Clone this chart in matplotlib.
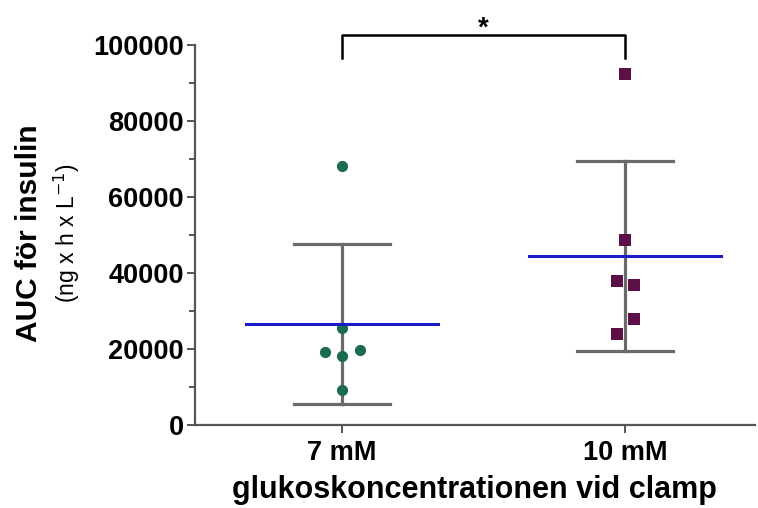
import numpy as np
import matplotlib
matplotlib.use("Agg")
import matplotlib.pyplot as plt
from matplotlib.ticker import MultipleLocator

categories = ["7 mM", "10 mM"]
vals_7 = [68200, 25500, 19200, 18200, 19700, 9200]
jit_7 = [0.0, 0.0, -0.06, 0.0, 0.064, 0.0]
vals_10 = [92400, 48700, 37900, 36800, 27900, 23900]
jit_10 = [0.0, 0.0, -0.028, 0.032, 0.032, -0.028]
means = [26700, 44600]
err_low = [5500, 19500]
err_high = [47600, 69500]
yticks = [0, 20000, 40000, 60000, 80000, 100000]

plt.rcParams['font.family'] = ['Liberation Sans', 'DejaVu Sans']

fig = plt.figure(figsize=(7.58, 5.08), dpi=100)
ax = fig.add_axes([0.257, 0.163, 0.739, 0.748])

gray = '#6a6a6a'
xs = np.arange(len(categories))
for i in range(len(categories)):
    ax.plot([xs[i], xs[i]], [err_low[i], err_high[i]], color=gray, lw=2.3, zorder=1)
    ax.plot([xs[i] - 0.17, xs[i] + 0.17], [err_low[i]] * 2, color=gray, lw=2.3, zorder=1)
    ax.plot([xs[i] - 0.17, xs[i] + 0.17], [err_high[i]] * 2, color=gray, lw=2.3, zorder=1)
    ax.plot([xs[i] - 0.34, xs[i] + 0.34], [means[i]] * 2, color='#1c1cc8', lw=2.2, zorder=3)

ax.scatter(xs[0] + np.array(jit_7), vals_7, marker='o', s=65, color='#1b6b52', zorder=2, linewidths=0)
ax.scatter(xs[1] + np.array(jit_10), vals_10, marker='s', s=70, color='#5c1046', zorder=2, linewidths=0)

ax.set_xlim(-0.52, 1.46)
ax.set_ylim(0, 100000)
ax.set_yticks(yticks)
ax.yaxis.set_minor_locator(MultipleLocator(10000))
ax.set_xticks(xs)
ax.set_xticklabels(categories, fontsize=19.5, fontweight='bold')
for lab in ax.get_yticklabels():
    lab.set_fontsize(19.5)
    lab.set_fontweight('bold')
ax.spines['top'].set_visible(False)
ax.spines['right'].set_visible(False)
for s in ['left', 'bottom']:
    ax.spines[s].set_linewidth(1.6)
    ax.spines[s].set_color('#555555')
ax.tick_params(axis='both', which='major', length=6, width=1.4, color='#555555', pad=2)
ax.tick_params(axis='x', which='major', pad=5)
ax.tick_params(axis='y', which='minor', length=4, width=1.4, color='#555555')

ax.set_xlabel("glukoskoncentrationen vid clamp", fontsize=22, fontweight='bold', labelpad=6)

fig.text(0.038, 0.541, "AUC för insulin", rotation=90, fontsize=21.5, fontweight='bold',
         ha='center', va='center')
fig.text(0.088, 0.541, "(ng x h x L$^{-1}$)", rotation=90, fontsize=16.5,
         ha='center', va='center')

# significance bracket
ax.plot([xs[0], xs[0], xs[1], xs[1]], [96600, 102600, 102600, 96600], color='black', lw=1.8,
        clip_on=False)
ax.text((xs[0] + xs[1]) / 2, 101000, "*", ha='center', va='bottom', fontsize=20, fontweight='bold')

fig.savefig("out.png", dpi=100)
